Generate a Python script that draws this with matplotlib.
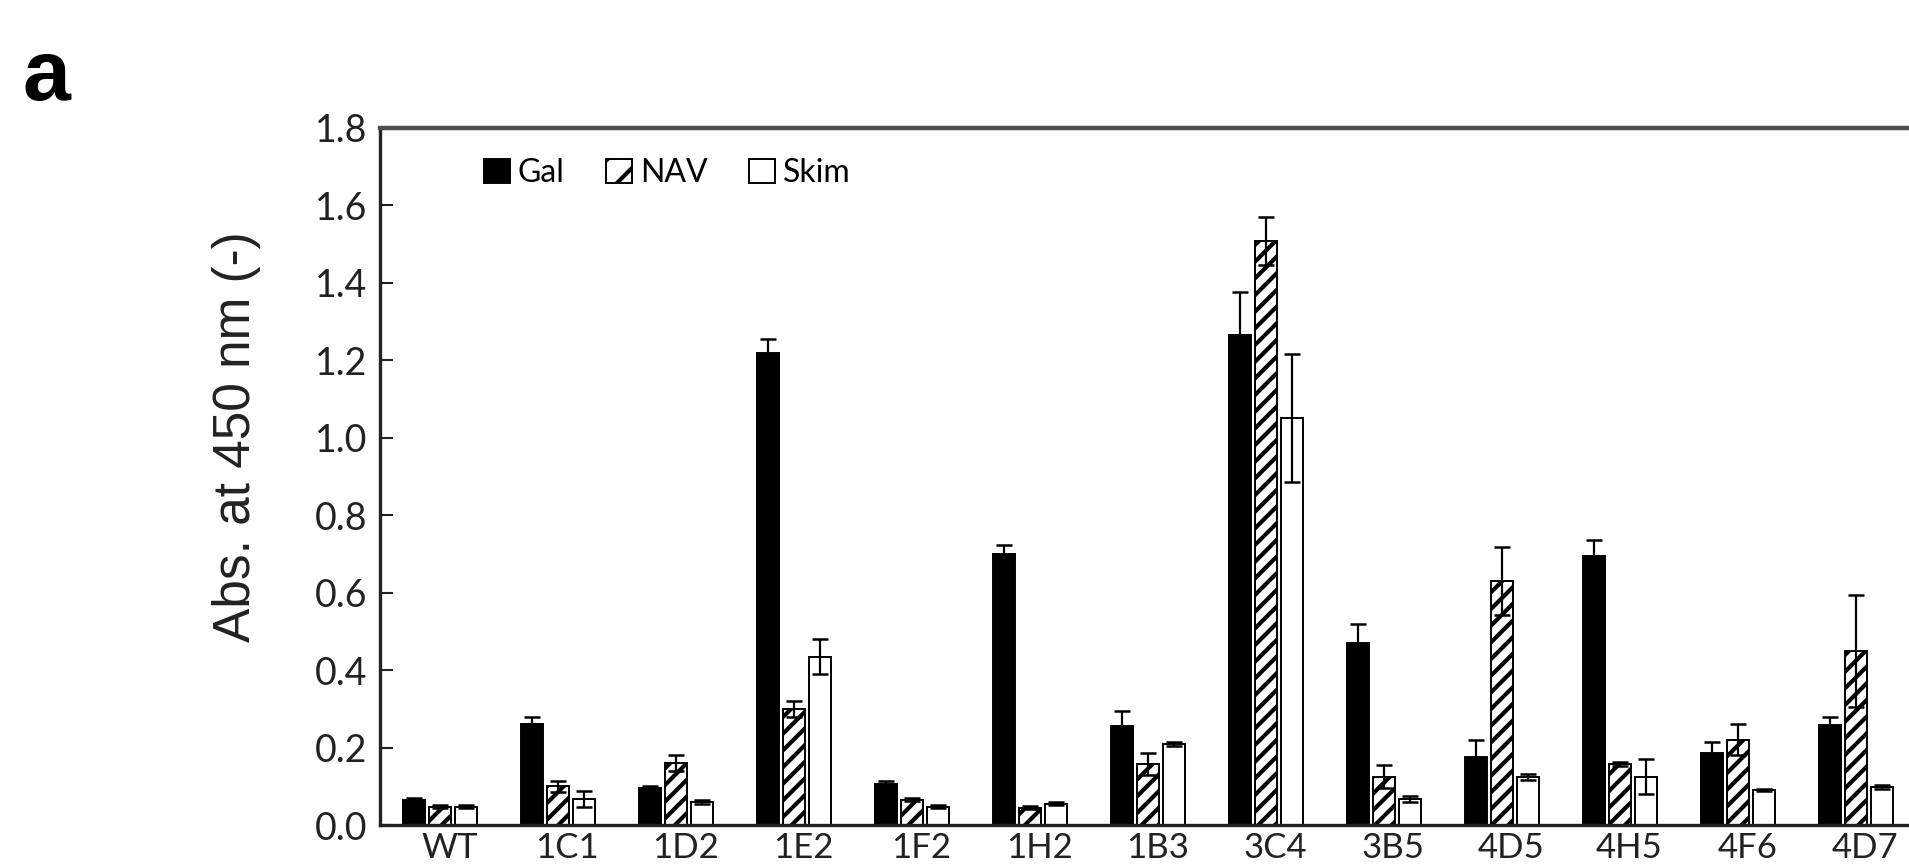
import matplotlib
matplotlib.use("Agg")
import matplotlib.pyplot as plt
from matplotlib.patches import Patch
import numpy as np

# strains and absorbance readings (mean, error)
strains = ["WT", "1C1", "1D2", "1E2", "1F2", "1H2", "1B3",
           "3C4", "3B5", "4D5", "4H5", "4F6", "4D7"]
gal = [0.065, 0.26, 0.095, 1.22, 0.105, 0.70, 0.255, 1.265, 0.47, 0.175, 0.695, 0.185, 0.258]
gal_err = [0.004, 0.02, 0.005, 0.035, 0.008, 0.022, 0.04, 0.11, 0.05, 0.045, 0.04, 0.03, 0.02]
nav = [0.048, 0.10, 0.16, 0.30, 0.065, 0.045, 0.158, 1.508, 0.125, 0.63, 0.158, 0.22, 0.45]
nav_err = [0.003, 0.015, 0.02, 0.02, 0.004, 0.004, 0.028, 0.063, 0.03, 0.087, 0.006, 0.04, 0.145]
skim = [0.048, 0.068, 0.06, 0.435, 0.048, 0.055, 0.21, 1.05, 0.068, 0.125, 0.125, 0.09, 0.098]
skim_err = [0.003, 0.02, 0.005, 0.045, 0.004, 0.004, 0.005, 0.165, 0.008, 0.008, 0.045, 0.003, 0.005]
series_names = ["Gal", "NAV", "Skim"]
y_ticks = [0.0, 0.2, 0.4, 0.6, 0.8, 1.0, 1.2, 1.4, 1.6, 1.8]

plt.rcParams["hatch.linewidth"] = 3.0
plt.rcParams["font.family"] = ["Lato", "DejaVu Sans"]

fig = plt.figure(figsize=(19.09, 8.64), dpi=100)
ax = fig.add_axes([0.199, 0.045, 0.801, 0.807])

x = np.arange(len(strains))
width = 0.19
step = 0.22

styles = [
    dict(facecolor="black", edgecolor="black", hatch=None),
    dict(facecolor="white", edgecolor="black", hatch="//"),
    dict(facecolor="white", edgecolor="black", hatch=None),
]
data = [(gal, gal_err), (nav, nav_err), (skim, skim_err)]

for i, ((vals, errs), st) in enumerate(zip(data, styles)):
    pos = x + (i - 1) * step
    ax.bar(pos, vals, width=width, linewidth=1.4, zorder=2, **st)
    ax.errorbar(pos, vals, yerr=errs, fmt="none", ecolor="black",
                elinewidth=1.6, capsize=5.5, capthick=1.8, zorder=3)

ax.set_xlim(-0.51, 12.45)
ax.set_ylim(0, 1.8)
ax.set_yticks(y_ticks)
ax.set_yticklabels([f"{t:.1f}" for t in y_ticks])
ax.set_xticks(x + 0.08)
ax.set_xticklabels(strains)

ax.tick_params(axis="y", direction="in", length=9, width=1.5, pad=9,
               labelsize=27, labelcolor="#222222", color="#222222")
ax.tick_params(axis="x", length=0, pad=5, labelsize=25, labelcolor="#222222")

ax.spines["right"].set_visible(False)
ax.spines["top"].set_color("#4d4d4d")
ax.spines["top"].set_linewidth(3.2)
for s in ("left", "bottom"):
    ax.spines[s].set_color("#222222")
    ax.spines[s].set_linewidth(2.4)

legend_hatch = [None, "/", None]
handles = [Patch(facecolor=st["facecolor"], edgecolor="black",
                 hatch=h, linewidth=1.4) for st, h in zip(styles, legend_hatch)]
ax.legend(handles, series_names, ncol=3, loc="upper left",
          bbox_to_anchor=(0.06, 0.975), frameon=False, fontsize=23,
          handlelength=0.8, handleheight=0.8, handletextpad=0.25,
          columnspacing=1.3, borderaxespad=0)

fig.text(0.124, 0.494, "Abs. at 450 nm (-)", rotation=90, ha="center",
         va="center", fontsize=37, family=["Liberation Sans", "DejaVu Sans"],
         color="#222222")
fig.text(0.012, 0.884, "a", fontsize=62, fontweight="bold",
         family=["Liberation Sans", "DejaVu Sans"], va="baseline")

fig.savefig("out.png", dpi=100)
